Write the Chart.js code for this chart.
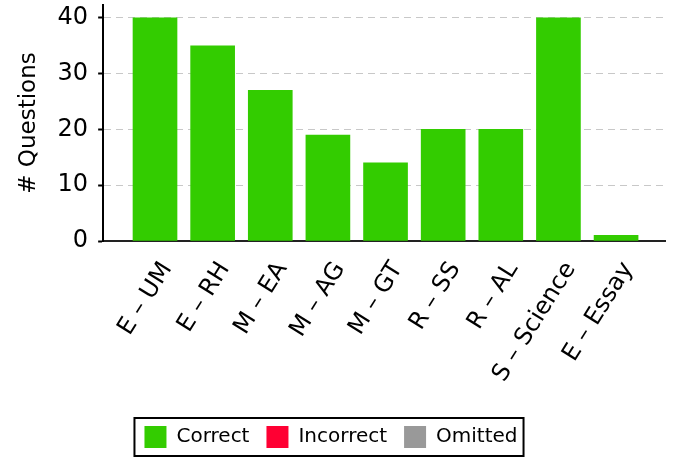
<!DOCTYPE html>
<html>
<head>
<meta charset="utf-8">
<script src="https://cdn.jsdelivr.net/npm/chart.js@4.4.1/dist/chart.umd.min.js"></script>
<style>
  html, body { margin: 0; padding: 0; background: #fff; }
  #wrap { width: 675px; height: 458px; }
</style>
</head>
<body>
<div id="wrap"><canvas id="canvas_questions" width="675" height="458"></canvas></div>
<script>
// categories + series
var labels = [ "E \u2013 UM", "E \u2013 RH", "M \u2013 EA", "M \u2013 AG", "M \u2013 GT", "R \u2013 SS", "R \u2013 AL", "S \u2013 Science", "E \u2013 Essay" ];
var correct = [ 40, 35, 27, 19, 14, 20, 20, 40, 1 ];
var incorrect = [ 0, 0, 0, 0, 0, 0, 0, 0, 0 ];
var omitted = [ 0, 0, 0, 0, 0, 0, 0, 0, 0 ];
var yTicks = [ 0, 10, 20, 30, 40 ];

// zero counts -> no bar at all (avoids hairlines on top of the green)
function toPoints(arr) {
	return arr.map(function(v, i) {
		return { x : i, y : v === 0 ? null : v };
	});
}

// legend sits a bit left of centre, with a box round the items only
var legendBorder = {
	id : 'legendBorder',
	afterLayout : function(chart) {
		if (!chart.legend) return;
		chart.legend.left -= 9;
		chart.legend.right -= 9;
	},
	afterDraw : function(chart) {
		var boxes = chart.legend && chart.legend.legendHitBoxes;
		if (!boxes || !boxes.length) return;
		var l = Infinity, r = -Infinity, t = Infinity, b = -Infinity;
		boxes.forEach(function(h) {
			l = Math.min(l, h.left);
			r = Math.max(r, h.left + h.width);
			t = Math.min(t, h.top);
			b = Math.max(b, h.top + h.height);
		});
		var ctx = chart.ctx;
		ctx.save();
		ctx.strokeStyle = '#000';
		ctx.lineWidth = 2;
		ctx.strokeRect(l - 10, t - 8, (r - l) + 16, (b - t) + 16);
		ctx.restore();
	}
};

var font = "'DejaVu Sans', sans-serif";

var questionsChart = new Chart(document.getElementById("canvas_questions"), {
	type : 'bar',
	data : {
		datasets : [ {
			label : "Correct",
			data : toPoints(correct),
			backgroundColor : "#33cc00"
		}, {
			label : "Incorrect",
			data : toPoints(incorrect),
			backgroundColor : "#ff0033"
		}, {
			label : "Omitted",
			data : toPoints(omitted),
			backgroundColor : "#999999"
		} ]
	},
	plugins : [ legendBorder ],
	options : {
		responsive : false,
		animation : false,
		barThickness : 44,
		layout : {
			padding : { left : 15, right : 10, top : 5, bottom : 0 }
		},
		plugins : {
			tooltip : { enabled : false },
			legend : {
				position : 'bottom',
				labels : {
					boxWidth : 22,
					boxHeight : 22,
					padding : 17,
					color : '#000',
					font : { family : font, size : 20 }
				}
			}
		},
		scales : {
			x : {
				type : 'linear',
				stacked : true,
				offset : false,
				min : -0.9,
				max : 8.849,
				afterBuildTicks : function(scale) {
					scale.ticks = labels.map(function(l, i) {
						return { value : i };
					});
				},
				afterFit : function(scale) {
					// room under the axis down to the legend
					scale.height = 168;
				},
				grid : { display : false, offset : false },
				border : { display : true, color : '#222', width : 2 },
				ticks : {
					autoSkip : false,
					maxRotation : 58,
					minRotation : 58,
					padding : 8,
					labelOffset : 12,
					color : '#000',
					font : { family : font, size : 24 },
					callback : function(v) {
						return labels[v];
					}
				}
			},
			y : {
				stacked : true,
				min : 0,
				max : 42.3,
				afterBuildTicks : function(scale) {
					scale.ticks = yTicks.map(function(v) {
						return { value : v };
					});
				},
				afterFit : function(scale) {
					scale.paddingTop = 0;
					scale.paddingBottom = 0;
				},
				grid : {
					color : '#c8c8c8',
					lineWidth : 1,
					drawTicks : true,
					tickLength : 5,
					tickColor : '#000',
					tickWidth : 2
				},
				border : { display : true, color : '#000', width : 2, dash : [ 7, 5 ] },
				ticks : {
					padding : 10,
					color : '#000',
					font : { family : font, size : 24 }
				},
				title : {
					display : true,
					text : "# Questions",
					color : '#000',
					padding : { top : 0, bottom : 5 },
					font : { family : font, size : 23 }
				}
			}
		}
	}
});
</script>
</body>
</html>
